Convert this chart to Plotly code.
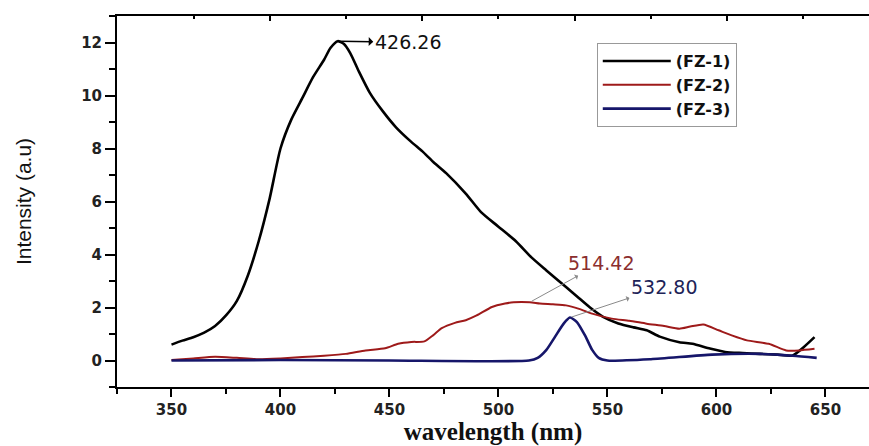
import plotly.graph_objects as go

# ---- data ----
fz1_x = [350, 355, 360, 365, 370, 375, 380, 385, 390, 395, 400, 405, 410, 415, 420, 423, 426.26,
         429, 432, 436, 441, 447, 453, 460, 465, 470, 476, 485, 492, 500, 508, 515, 522, 531, 537,
         542, 548, 555, 562, 568, 574, 583, 589, 597, 604, 612, 620, 628, 635, 640, 645]
fz1_y = [0.6, 0.75, 0.88, 1.05, 1.3, 1.7, 2.25, 3.2, 4.5, 6.1, 8.0, 9.1, 9.9, 10.7, 11.35, 11.8, 12.05,
         11.95, 11.6, 10.9, 10.1, 9.4, 8.8, 8.25, 7.9, 7.5, 7.07, 6.3, 5.6, 5.05, 4.5, 3.9, 3.4, 2.77, 2.35,
         2.0, 1.65, 1.4, 1.25, 1.14, 0.9, 0.69, 0.63, 0.45, 0.32, 0.28, 0.25, 0.22, 0.19, 0.5, 0.88]

fz2_x = [350, 360, 370, 380, 390, 400, 410, 420, 430, 439, 448, 454, 460, 466, 470, 474, 480,
         485, 490, 497, 503, 507, 514.42, 519, 525, 531, 537, 543, 552, 560, 568, 576, 583, 588,
         594, 601, 607, 614, 624, 632, 638, 645]
fz2_y = [0.02, 0.08, 0.14, 0.1, 0.05, 0.08, 0.13, 0.18, 0.25, 0.38, 0.46, 0.63, 0.7, 0.72, 0.95,
         1.22, 1.42, 1.52, 1.7, 2.02, 2.15, 2.2, 2.2, 2.15, 2.12, 2.08, 1.95, 1.77, 1.58, 1.5, 1.39,
         1.3, 1.2, 1.28, 1.36, 1.14, 0.95, 0.76, 0.63, 0.38, 0.38, 0.44]

fz3_x = [350, 400, 450, 514, 518, 522, 526, 530, 532.8, 536, 540, 543, 546, 550, 570, 598, 620,
         635, 646]
fz3_y = [0.0, 0.02, 0.0, 0.0, 0.1, 0.4, 0.9, 1.4, 1.62, 1.45, 0.9, 0.4, 0.1, 0.0, 0.05, 0.22,
         0.25, 0.18, 0.1]

series_names = ["(FZ-1)", "(FZ-2)", "(FZ-3)"]
peak_labels = ["426.26", "514.42", "532.80"]
peak_x = [426.26, 514.42, 532.8]
peak_y = [12.05, 2.2, 1.62]

x_ticks = [350, 400, 450, 500, 550, 600, 650]
y_ticks = [0, 2, 4, 6, 8, 10, 12]

colors = ["#000000", "#9e1a1a", "#16166a"]

fig = go.Figure()
fig.add_trace(go.Scatter(x=fz1_x, y=fz1_y, mode="lines", name=series_names[0],
                         line=dict(color=colors[0], width=2.6, shape="spline", smoothing=0.6)))
fig.add_trace(go.Scatter(x=fz2_x, y=fz2_y, mode="lines", name=series_names[1],
                         line=dict(color=colors[1], width=2, shape="spline", smoothing=0.6)))
fig.add_trace(go.Scatter(x=fz3_x, y=fz3_y, mode="lines", name=series_names[2],
                         line=dict(color=colors[2], width=2.6, shape="spline", smoothing=0.6)))
# empty helper trace so the top (frame) axis is drawn
fig.add_trace(go.Scatter(x=[None], y=[None], xaxis="x2", yaxis="y", showlegend=False,
                         hoverinfo="skip", mode="lines"))

fig.update_layout(
    width=869, height=446,
    margin=dict(l=117, r=0, t=16, b=59),
    paper_bgcolor="white", plot_bgcolor="white",
    showlegend=True,
    legend=dict(x=0.638, y=0.927, xanchor="left", yanchor="top",
                bgcolor="white", bordercolor="#999", borderwidth=1,
                font=dict(family="DejaVu Sans", size=16, color="#111", weight="bold"),
                itemwidth=68, tracegroupgap=0),
    xaxis=dict(range=[325, 670], showgrid=False, zeroline=False,
               showline=True, linecolor="black", linewidth=2,
               tickvals=x_ticks, ticks="outside", ticklen=8, tickwidth=2, tickcolor="black",
               minor=dict(dtick=25, tick0=325, ticks="outside", ticklen=5, tickwidth=1.5, tickcolor="black"),
               tickfont=dict(family="DejaVu Sans", size=15, color="#222", weight="bold"),
               title=dict(text="wavelength (nm)", standoff=4,
                          font=dict(family="Liberation Serif", size=25, color="#111", weight="bold"))),
    xaxis2=dict(range=[0, 752], overlaying="x", side="top", anchor="y",
                showgrid=False, zeroline=False, showline=True, linecolor="black", linewidth=1.5,
                showticklabels=False, tick0=153, dtick=152.3, ticks="inside", ticklen=5,
                tickwidth=1.5, tickcolor="black",
                minor=dict(tick0=153, dtick=76.15, ticks="inside", ticklen=3, tickwidth=1.5, tickcolor="black")),
    yaxis=dict(range=[-1, 13], showgrid=False, zeroline=False,
               showline=True, linecolor="black", linewidth=2,
               tickvals=y_ticks, ticks="outside", ticklen=10, tickwidth=2, tickcolor="black",
               minor=dict(dtick=2, tick0=-1, ticks="outside", ticklen=6, tickwidth=1.5, tickcolor="black"),
               tickfont=dict(family="DejaVu Sans", size=15, color="#222", weight="bold"),
               title=dict(text="Intensity (a.u)", standoff=44,
                          font=dict(family="Liberation Sans Narrow, Arial Narrow, Liberation Sans", size=21, color="#111"))),
)

# peak annotations (arrow head near the label, like the reference)
ann_colors = ["#111111", "#8b2e2e", "#1e2458"]
arrow_colors = ["#000000", "#8a8a8a", "#8a8a8a"]
offsets = [(70, 1), (71, -39), (94, -31)]
for lbl, px, py, c, ac, (ax, ay) in zip(peak_labels, peak_x, peak_y, ann_colors, arrow_colors, offsets):
    fig.add_annotation(x=px, y=py, xref="x", yref="y", text=lbl, showarrow=True,
                       ax=ax, ay=ay, axref="pixel", ayref="pixel",
                       arrowside="start", arrowhead=2, arrowsize=1.2, arrowwidth=1.5 if ac == "#000000" else 1,
                       arrowcolor=ac, standoff=2, startstandoff=0,
                       font=dict(family="DejaVu Sans", size=19, color=c))

fig.write_html("out.html")
